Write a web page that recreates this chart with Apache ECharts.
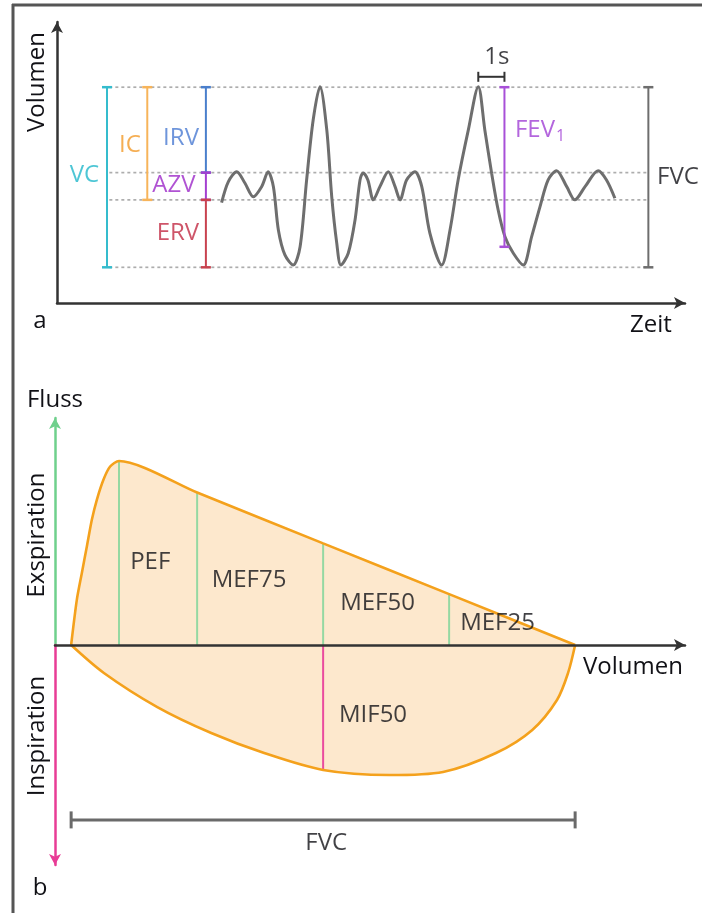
<!DOCTYPE html>
<html>
<head>
<meta charset="utf-8">
<script src="https://cdn.jsdelivr.net/npm/echarts@6/dist/echarts.min.js"></script>
<style>
  html, body { margin: 0; padding: 0; background: #ffffff; }
  #chart { width: 702px; height: 913px; }
</style>
</head>
<body>
<div id="chart"></div>
<script>
// ---------- a: Spirogramm (Zeit in s, Volumen in willkürlichen Einheiten) ----------
const spiroTime = [6.29, 6.55, 6.87, 7.18, 7.50, 7.82, 8.07, 8.27, 8.46, 8.71, 9.03, 9.29, 9.54, 9.79,
  10.05, 10.31, 10.50, 10.69, 10.85, 11.13, 11.39, 11.58, 11.70, 11.88, 12.09, 12.34, 12.66, 12.92,
  13.11, 13.36, 13.68, 13.94, 14.25, 14.70, 15.02, 15.33, 15.72, 16.10, 16.35, 16.61, 16.86, 17.12,
  17.44, 17.82, 18.14, 18.46, 18.77, 19.09, 19.48, 19.79, 20.18, 20.68, 21.00, 21.32];
const spiroVolume = [3.57, 4.32, 4.67, 4.27, 3.78, 4.14, 4.67, 4.14, 2.60, 1.71, 1.35, 2.00, 4.38, 6.51,
  7.70, 6.16, 3.78, 2.14, 1.35, 1.77, 2.95, 4.38, 4.63, 4.38, 3.67, 4.14, 4.67, 4.14,
  3.67, 4.38, 4.67, 4.14, 2.49, 1.35, 2.60, 4.38, 6.16, 7.70, 6.16, 4.62, 3.31, 2.36,
  1.77, 1.35, 2.36, 3.43, 4.38, 4.71, 4.14, 3.67, 4.14, 4.71, 4.38, 3.73];

// Volumenniveaus: Residualvolumen, Atemruhelage, Ende Einatmung, maximale Einatmung
const volumeLevels = [1.27, 3.67, 4.64, 7.68];

// Teilvolumina als Intervalle [von, bis]
const volumeNames = ['VC', 'IC', 'IRV', 'AZV', 'ERV'];
const volumeLow   = [1.27, 3.67, 4.64, 3.67, 1.27];
const volumeHigh  = [7.68, 7.68, 7.68, 4.64, 3.67];

// Forcierte Exspiration
const fevStart = 16.10;     // Beginn der forcierten Ausatmung (s)
const fevSeconds = 1;       // Dauer für FEV1
const fevLow = 2.00;        // Volumen nach 1 s
const fvcLow = 1.27, fvcHigh = 7.68;

// ---------- b: Fluss-Volumen-Kurve (Volumen in % FVC, Fluss in willkürlichen Einheiten) ----------
const riseVolume = [0, 1.13, 2.12, 3.12, 4.11, 5.10, 6.41, 7.74];
const riseFlow   = [0, 2.05, 3.26, 4.47, 5.68, 6.59, 7.50, 8.10];
const mefNames  = ['PEF', 'MEF75', 'MEF50', 'MEF25'];
const mefVolume = [9.5, 25, 50, 75];
const mefFlow   = [8.35, 6.92, 4.61, 2.31];
const fvcPercent = 100;

const inspVolume = [0, 6.5, 17.1, 27.8, 38.3, 50, 63.1, 73.8, 84.3, 91.5, 96.4, 98.6, 100];
const inspFlow   = [0, 1.27, 2.82, 4.00, 4.91, 5.68, 5.91, 5.77, 4.91, 3.86, 2.50, 1.27, 0];
const mifName = 'MIF50';
const mifVolume = 50;

// ---------- Layout / Stil ----------
const FONT = '"Open Sans", "DejaVu Sans", sans-serif';
const TEXT = '#111116';
const FS = 24;

const zip = (a, b) => a.map((v, i) => [v, b[i]]);

const layoutA = {
  dotFrom: 2.0, dotTo: 22.6,
  barX: { VC: 1.91, IC: 3.45, IRV: 5.69, AZV: 5.69, ERV: 5.69 },
  barColor: { VC: '#35bccd', IC: '#f7b45a', IRV: '#4a7fcc', AZV: '#a43fd0', ERV: '#c8424f' },
  textColor: { VC: '#22b8ca', IC: '#f39a28', IRV: '#4a7ad2', AZV: '#9c28c8', ERV: '#c22a44' },
  textPos: { VC: [1.05, 4.56], IC: [2.79, 5.62], IRV: [4.74, 5.87], AZV: [4.47, 4.20], ERV: [4.62, 2.49] },
  bracketY: 8.05,
  fvcX: 22.6
};

function segment(xi, yi, pts, color, width, cap, z) {
  return {
    type: 'line', xAxisIndex: xi, yAxisIndex: yi, data: pts,
    symbol: cap ? 'rect' : 'none', symbolSize: cap || 0, showSymbol: !!cap,
    itemStyle: { color: color }, lineStyle: { color: color, width: width },
    silent: true, z: z || 3, animation: false
  };
}

function labels(xi, yi, items) {
  return {
    type: 'scatter', xAxisIndex: xi, yAxisIndex: yi, symbolSize: 0, silent: true, z: 8,
    data: items.map(it => ({
      value: [it.x, it.y],
      label: Object.assign({
        show: true, position: it.pos || 'inside', distance: 0, formatter: it.text,
        color: it.color || TEXT, fontSize: FS, fontFamily: FONT
      }, it.extra || {})
    }))
  };
}

const series = [];

// a: gestrichelte Hilfslinien
volumeLevels.forEach(lv => {
  const s = segment(0, 0, [[layoutA.dotFrom, lv], [layoutA.dotTo, lv]], '#adadad', 1.7, null, 1);
  s.lineStyle.type = [3, 3];
  series.push(s);
});

// a: Atemkurve
series.push({
  type: 'line', xAxisIndex: 0, yAxisIndex: 0, data: zip(spiroTime, spiroVolume),
  smooth: 0.3, symbol: 'none', lineStyle: { color: '#6e6e6e', width: 3 }, z: 3, silent: true
});

// a: Teilvolumina
volumeNames.forEach((n, i) => {
  const x = layoutA.barX[n];
  series.push(segment(0, 0, [[x, volumeLow[i]], [x, volumeHigh[i]]], layoutA.barColor[n], 2, [10, 2.5], 4));
});

// a: FEV1, 1 s und FVC
const fevX = fevStart + fevSeconds;
series.push(segment(0, 0, [[fevX, fevLow], [fevX, fvcHigh]], '#a850d8', 2, [10, 2.5], 4));
series.push(segment(0, 0, [[fevStart, layoutA.bracketY], [fevX, layoutA.bracketY]], '#333333', 2, [2, 10], 4));
series.push(segment(0, 0, [[layoutA.fvcX, fvcLow], [layoutA.fvcX, fvcHigh]], '#6e6e6e', 2, [10, 2.5], 4));

// a: Beschriftungen
series.push(labels(0, 0, volumeNames.map(n => ({
  x: layoutA.textPos[n][0], y: layoutA.textPos[n][1], text: n, color: layoutA.textColor[n]
})).concat([
  { x: 17.5, y: 6.16, text: '{m|FEV}{s|1}', pos: 'right',
    extra: { rich: { m: { fontSize: FS, fontFamily: FONT, color: '#a040d4' },
                     s: { fontSize: 16, fontFamily: FONT, color: '#a040d4', padding: [14, 0, 0, 1] } } } },
  { x: 16.81, y: 8.75, text: '1s' },
  { x: 22.93, y: 4.48, text: 'FVC', pos: 'right' }
])));

// b: Exspiration (Fläche, Linien, Kontur)
const expData = zip(riseVolume, riseFlow).concat(zip(mefVolume, mefFlow)).concat([[fvcPercent, 0]]);
series.push({
  type: 'line', xAxisIndex: 1, yAxisIndex: 1, data: expData, smooth: 0.25, symbol: 'none',
  lineStyle: { width: 0 }, areaStyle: { color: '#fde8cd', opacity: 1 }, z: 1, silent: true
});
mefNames.forEach((n, i) => {
  series.push(segment(1, 1, [[mefVolume[i], 0], [mefVolume[i], mefFlow[i]]], '#95d8a2', 2, null, 2));
});
series.push({
  type: 'line', xAxisIndex: 1, yAxisIndex: 1, data: expData, smooth: 0.25, symbol: 'none',
  lineStyle: { color: '#f4a11c', width: 2.6 }, z: 4, silent: true
});

// b: Inspiration
const inspData = zip(inspVolume, inspFlow);
const mifFlow = inspFlow[inspVolume.indexOf(mifVolume)];
series.push({
  type: 'line', xAxisIndex: 2, yAxisIndex: 2, data: inspData, smooth: 0.3, symbol: 'none',
  lineStyle: { width: 0 }, areaStyle: { color: '#fde8cd', opacity: 1 }, z: 1, silent: true
});
series.push(segment(2, 2, [[mifVolume, 0], [mifVolume, mifFlow]], '#ea4b9e', 2, null, 2));
series.push({
  type: 'line', xAxisIndex: 2, yAxisIndex: 2, data: inspData, smooth: 0.3, symbol: 'none',
  lineStyle: { color: '#f4a11c', width: 2.6 }, z: 4, silent: true
});

// b: FVC-Klammer
series.push(segment(2, 2, [[0, 7.95], [fvcPercent, 7.95]], '#6a6a6a', 3, [3, 17], 4));

// b: Beschriftungen
series.push(labels(1, 1, [
  { x: 15.7, y: 3.77, text: mefNames[0] },
  { x: 35.3, y: 2.95, text: mefNames[1] },
  { x: 60.8, y: 1.91, text: mefNames[2] },
  { x: 84.6, y: 1.00, text: mefNames[3] }
]));
series.push(labels(2, 2, [
  { x: 59.9, y: 3.18, text: mifName },
  { x: 50.6, y: 9.0, text: 'FVC' }
]));

const hidden = { axisTick: { show: false }, axisLabel: { show: false }, splitLine: { show: false } };
function axisLine(color, atStart) {
  return { show: true, onZero: false, symbol: atStart ? ['arrow', 'none'] : ['none', 'arrow'], symbolSize: [9, 11],
           lineStyle: { color: color, width: 2.5 } };
}
const nameStyle = { fontSize: FS, fontFamily: FONT, color: TEXT };
const textStyle = { font: FS + 'px ' + FONT, fill: TEXT, align: 'center', verticalAlign: 'middle',
                    textAlign: 'center', textVerticalAlign: 'middle' };
const text = (s, x, y, rot) => ({ type: 'text', x: x, y: y, rotation: rot ? Math.PI / 2 : 0, silent: true,
                                  style: Object.assign({ text: s }, textStyle) });

const option = {
  animation: false,
  backgroundColor: '#ffffff',
  grid: [
    { left: 57, top: 22, width: 628, height: 281 },
    { left: 55, top: 418, width: 630, height: 227 },
    { left: 55, top: 645, width: 630, height: 220 }
  ],
  xAxis: [
    Object.assign({ gridIndex: 0, type: 'value', min: 0, max: 24, z: 5, axisLine: axisLine('#333333'),
      name: 'Zeit', nameLocation: 'end', nameGap: -55,
      nameTextStyle: Object.assign({ verticalAlign: 'top', padding: [10, 0, 0, 0] }, nameStyle) }, hidden),
    Object.assign({ gridIndex: 1, type: 'value', min: -3.2, max: 121.8, z: 5, axisLine: axisLine('#333333'),
      name: 'Volumen', nameLocation: 'end', nameGap: -102,
      nameTextStyle: Object.assign({ verticalAlign: 'top', padding: [10, 0, 0, 0] }, nameStyle) }, hidden),
    Object.assign({ gridIndex: 2, type: 'value', min: -3.2, max: 121.8, show: false }, hidden)
  ],
  yAxis: [
    Object.assign({ gridIndex: 0, type: 'value', min: 0, max: 10, z: 5, axisLine: axisLine('#333333') }, hidden),
    Object.assign({ gridIndex: 1, type: 'value', min: 0, max: 10.3, z: 5, axisLine: axisLine('#6fd08c'),
      name: 'Fluss', nameLocation: 'end', nameGap: 6, nameTextStyle: nameStyle }, hidden),
    Object.assign({ gridIndex: 2, type: 'value', min: 0, max: 10, inverse: true, z: 5,
      axisLine: axisLine('#e83c96', true) }, hidden)
  ],
  graphic: [
    { type: 'line', shape: { x1: 13, y1: 4, x2: 13, y2: 913 }, style: { stroke: '#555555', lineWidth: 3 }, silent: true },
    { type: 'line', shape: { x1: 12, y1: 5, x2: 702, y2: 5 }, style: { stroke: '#555555', lineWidth: 3 }, silent: true },
    text('Volumen', 37, 82, true),
    text('a', 40, 321),
    text('Exspiration', 37, 535, true),
    text('Inspiration', 37, 736, true),
    text('b', 40, 888)
  ],
  series: series
};

const chart = echarts.init(document.getElementById('chart'), null, { renderer: 'canvas' });
chart.setOption(option);
</script>
</body>
</html>
